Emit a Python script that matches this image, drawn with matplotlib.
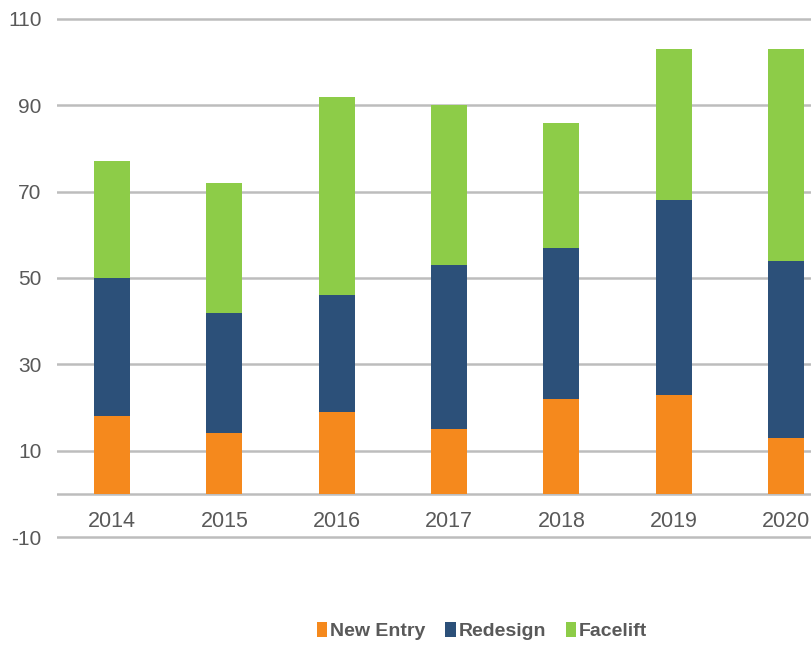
import matplotlib.pyplot as plt
import numpy as np

years = ['2014', '2015', '2016', '2017', '2018', '2019', '2020']
new_entry = [18, 14, 19, 15, 22, 23, 13]
redesign = [32, 28, 27, 38, 35, 45, 41]
facelift = [27, 30, 46, 37, 29, 35, 49]
y_ticks = [-10, 10, 30, 50, 70, 90, 110]

plt.rcParams['font.family'] = ['Liberation Sans', 'DejaVu Sans']
text_grey = '#595959'
grid_grey = '#bdbdbd'

fig = plt.figure(figsize=(8.12, 6.45), dpi=100)
ax = fig.add_axes([57 / 812, 105.8 / 645, 755 / 812, 522.4 / 645])

x = np.arange(len(years))
w = 0.32
ne = np.array(new_entry)
rd = np.array(redesign)
fl = np.array(facelift)

ax.bar(x, ne, w, color='#f5891d', label='New Entry', zorder=3)
ax.bar(x, rd, w, bottom=ne, color='#2c5079', label='Redesign', zorder=3)
ax.bar(x, fl, w, bottom=ne + rd, color='#8dcc48', label='Facelift', zorder=3)

ax.set_xlim(-0.49, 6.23)
ax.set_ylim(-10.5, 110.5)

# horizontal grid plus the zero baseline
for yv in y_ticks + [0]:
    ax.axhline(yv, color=grid_grey, lw=1.8, zorder=1)

ax.set_yticks(y_ticks)
ax.set_yticklabels([str(v) for v in y_ticks])
ax.tick_params(axis='y', length=0, pad=11, labelsize=15, labelcolor=text_grey)

# year labels hang just under the zero line
ax.spines['bottom'].set_position(('data', 0))
ax.set_xticks(x)
ax.set_xticklabels(years)
ax.tick_params(axis='x', length=0, pad=12, labelsize=15.5, labelcolor=text_grey)

for s in ax.spines.values():
    s.set_visible(False)

leg = fig.legend(loc='center', bbox_to_anchor=(482 / 812, 1 - 631 / 645), ncol=3,
                 frameon=False, handlelength=0.55, handleheight=0.8,
                 handletextpad=0.15, columnspacing=1.0,
                 prop={'size': 14, 'weight': 'bold'})
for t in leg.get_texts():
    t.set_color(text_grey)

fig.savefig('out.png', dpi=100)
